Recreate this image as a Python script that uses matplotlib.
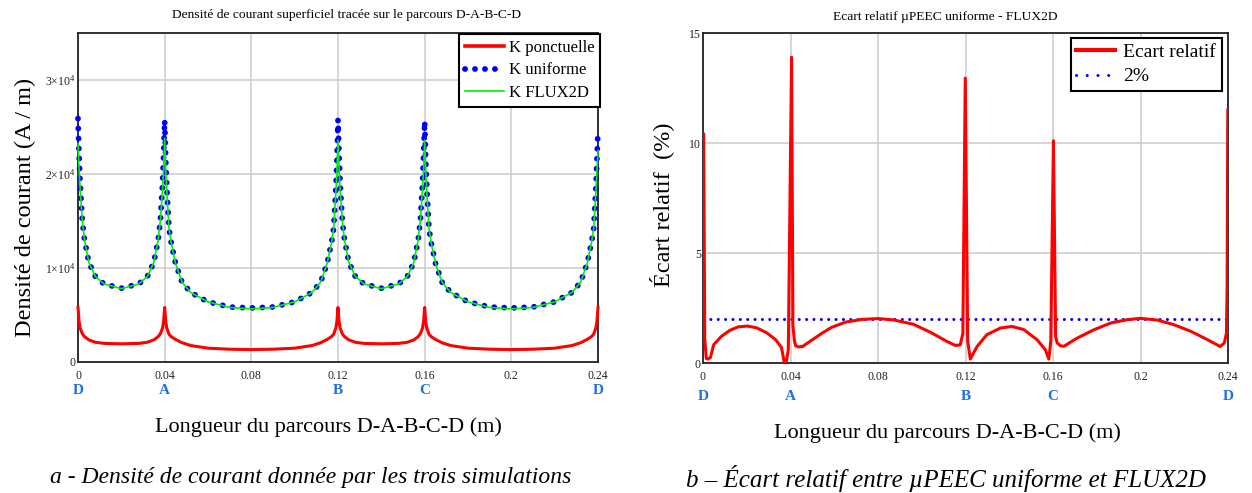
import matplotlib
matplotlib.use('Agg')
import matplotlib.pyplot as plt
import matplotlib.transforms as mtransforms
from matplotlib.ticker import FuncFormatter
from matplotlib.lines import Line2D

# polices : Times-like partout
plt.rcParams['font.family'] = ['Liberation Serif', 'DejaVu Serif']
plt.rcParams['mathtext.fontset'] = 'custom'
plt.rcParams['mathtext.rm'] = 'Liberation Serif'
plt.rcParams['mathtext.it'] = 'Liberation Serif:italic'

# ---- données ----
# abscisse le long du parcours D-A-B-C-D (m)
k_x = [0, 0.0005, 0.001, 0.002, 0.003, 0.005, 0.008, 0.012, 0.020, 0.028, 0.032, 0.035, 0.037, 0.038, 0.039, 0.0395,
       0.040,
       0.0405, 0.041, 0.042, 0.043, 0.045, 0.048, 0.052, 0.060, 0.070, 0.080, 0.090, 0.100, 0.108, 0.112, 0.115,
       0.117, 0.118, 0.119, 0.1195,
       0.120,
       0.1205, 0.121, 0.122, 0.123, 0.125, 0.128, 0.132, 0.140, 0.148, 0.152, 0.155, 0.157, 0.158, 0.159, 0.1595,
       0.160,
       0.1605, 0.161, 0.162, 0.163, 0.165, 0.168, 0.172, 0.180, 0.190, 0.200, 0.210, 0.220, 0.228, 0.232, 0.235,
       0.237, 0.238, 0.239, 0.2395,
       0.240]

# K ponctuelle (A/m)
k_ponctuelle = [5800, 4300, 3600, 3000, 2700, 2350, 2100, 1980, 1930, 1980, 2100, 2350, 2700, 3000, 3600, 4300,
                5800,
                4300, 3600, 2950, 2700, 2400, 2050, 1750, 1470, 1360, 1320, 1360, 1470, 1750, 2050, 2400,
                2700, 2950, 3600, 4300,
                5800,
                4300, 3600, 3000, 2700, 2350, 2100, 1980, 1930, 1980, 2100, 2350, 2700, 3000, 3600, 4300,
                5800,
                4300, 3600, 2950, 2700, 2400, 2050, 1750, 1470, 1360, 1320, 1360, 1470, 1750, 2050, 2400,
                2700, 2950, 3600, 4300,
                5800]

# K uniforme (A/m)
k_uniforme = [25900, 22000, 19000, 15000, 13000, 10600, 9100, 8300, 7850, 8300, 9100, 10600, 13000, 15000, 19000, 22000,
              25700,
              21500, 18500, 14200, 12700, 10500, 8500, 7400, 6400, 5850, 5750, 5850, 6400, 7400, 8500, 10500,
              12700, 14200, 18500, 21500,
              25800,
              22000, 19000, 15000, 13000, 10600, 9100, 8300, 7850, 8300, 9100, 10600, 13000, 15000, 19000, 22000,
              25600,
              21500, 18500, 14200, 12700, 10500, 8500, 7400, 6400, 5850, 5750, 5850, 6400, 7400, 8500, 10500,
              12700, 14200, 18500, 21500,
              24800]

# K FLUX2D (A/m)
k_flux2d = [23200, 20500, 18300, 15000, 13000, 10600, 9100, 8300, 7800, 8300, 9100, 10600, 13000, 15000, 18300, 20500,
            23800,
            20300, 18000, 14200, 12700, 10500, 8500, 7400, 6400, 5800, 5650, 5800, 6400, 7400, 8500, 10500,
            12700, 14200, 18000, 20300,
            23600,
            20500, 18300, 15000, 13000, 10600, 9100, 8300, 7800, 8300, 9100, 10600, 13000, 15000, 18300, 20500,
            23600,
            20300, 18000, 14200, 12700, 10500, 8500, 7400, 6400, 5800, 5650, 5800, 6400, 7400, 8500, 10500,
            12700, 14200, 18000, 20300,
            22500]

# écart relatif µPEEC uniforme / FLUX2D (%)
ecart_x = [0.0003, 0.0008, 0.0015, 0.0023, 0.0034, 0.0049, 0.0084, 0.0122, 0.0160, 0.0202, 0.0245, 0.0290, 0.0333,
           0.0359, 0.0371, 0.0381, 0.0390, 0.0405, 0.0411, 0.0418, 0.0424, 0.0437, 0.0455, 0.0483, 0.0545, 0.0588,
           0.0652, 0.0726, 0.0800, 0.0870, 0.0962, 0.1039, 0.1115, 0.1153, 0.1176, 0.1188, 0.1199, 0.1210, 0.1222,
           0.1253, 0.1298, 0.1360, 0.1413, 0.1466, 0.1527, 0.1565, 0.1581, 0.1590, 0.1602, 0.1612, 0.1619, 0.1634,
           0.1650, 0.1710, 0.1787, 0.1864, 0.1940, 0.2000, 0.2077, 0.2153, 0.2230, 0.2306, 0.2364, 0.2383, 0.2393,
           0.2396, 0.2399]
ecart_y = [10.4, 1.1, 0.2, 0.18, 0.25, 0.83, 1.21, 1.48, 1.64, 1.68, 1.60, 1.38, 1.05,
           0.70, 0.05, 0.08, 0.60, 13.9, 1.70, 1.00, 0.78, 0.73, 0.75, 0.94, 1.36, 1.62,
           1.86, 1.98, 2.02, 1.96, 1.76, 1.40, 0.98, 0.80, 0.82, 1.35, 12.95, 1.00, 0.18,
           0.75, 1.29, 1.59, 1.66, 1.52, 1.06, 0.60, 0.18, 1.00, 10.1, 1.20, 0.91, 0.78,
           0.76, 1.13, 1.51, 1.82, 1.97, 2.03, 1.95, 1.74, 1.44, 1.06, 0.75, 0.91, 1.36,
           3.5, 11.5]

seuil_x = [0, 0.24]
seuil_y = [2, 2]

x_ticks = [0, 0.04, 0.08, 0.12, 0.16, 0.2, 0.24]
x_ticklabels = ['0', '0.04', '0.08', '0.12', '0.16', '0.2', '0.24']
k_yticks = [0, 1e4, 2e4, 3e4]
ecart_yticks = [0, 5, 10, 15]
corner_names = ['D', 'A', 'B', 'C', 'D']
corner_pos = [0, 0.04, 0.12, 0.16, 0.24]

# ---- figure ----
W, H = 1252, 493
fig = plt.figure(figsize=(W / 100, H / 100), dpi=100)


def px_box(x0, y0, x1, y1):
    return [x0 / W, 1 - y1 / H, (x1 - x0) / W, (y1 - y0) / H]


ax1 = fig.add_axes(px_box(78, 33, 598, 362))
ax2 = fig.add_axes(px_box(703, 33, 1228, 363))

blue_dots = dict(color='#0000ff', linestyle=(0, (0.01, 1.7)), dash_capstyle='round', lw=4.2)

# panneau a
ax1.plot(k_x, k_uniforme, clip_on=False, zorder=3, **blue_dots)
ax1.plot(k_x, k_flux2d, color='#00f000', lw=1.2, clip_on=False, zorder=4)
ax1.plot(k_x, k_ponctuelle, color='#ff0000', lw=2.2, clip_on=False, zorder=5)
ax1.set_xlim(0, 0.24)
ax1.set_ylim(0, 3.5e4)
ax1.set_yticks(k_yticks)


def fmt_k(v, pos):
    if v == 0:
        return '0'
    return r'%d$\times$10$^{4}$' % round(v / 1e4)


ax1.yaxis.set_major_formatter(FuncFormatter(fmt_k))

h1 = [Line2D([], [], color='#ff0000', lw=2.6),
      Line2D([], [], **blue_dots),
      Line2D([], [], color='#00f000', lw=1.2)]
leg1 = ax1.legend(h1, ['K ponctuelle', 'K uniforme', 'K FLUX2D'], loc='upper right',
                  bbox_to_anchor=(1.004, 0.997), fontsize=12, frameon=True, fancybox=False,
                  framealpha=1, edgecolor='black', handlelength=2.3, handletextpad=0.3,
                  labelspacing=0.4, borderpad=0.35, borderaxespad=0)
leg1.get_frame().set_linewidth(1.5)

# panneau b
ax2.plot(seuil_x, seuil_y, color='#0000ff', linestyle=(0, (0.01, 2.4)), dash_capstyle='round', lw=2.2,
         zorder=3)
ax2.plot(ecart_x, ecart_y, color='#ff0000', lw=2.2, zorder=4)
ax2.set_xlim(0, 0.24)
ax2.set_ylim(0, 15)
ax2.set_yticks(ecart_yticks)
ax2.set_yticklabels([str(v) for v in ecart_yticks])

h2 = [Line2D([], [], color='#ff0000', lw=3),
      Line2D([], [], color='#0000ff', linestyle=(0, (0.01, 3.5)), dash_capstyle='round', lw=2.2)]
leg2 = ax2.legend(h2, ['Ecart relatif', '2%'], loc='upper right', bbox_to_anchor=(0.988, 0.986),
                  fontsize=14, frameon=True, fancybox=False, framealpha=1, edgecolor='black',
                  handlelength=2.0, handletextpad=0.4, labelspacing=0.35, borderpad=0.3, borderaxespad=0)
leg2.get_frame().set_linewidth(1.5)

for ax, ypos in [(ax1, -0.088), (ax2, -0.102)]:
    ax.set_xticks(x_ticks)
    ax.set_xticklabels(x_ticklabels)
    ax.tick_params(length=0, labelsize=8.5, colors='#222222')
    ax.tick_params(axis='x', pad=5.5)
    ax.tick_params(axis='y', pad=1.5)
    ax.grid(True, color='#cccccc', lw=1.1)
    ax.set_axisbelow(True)
    for s in ax.spines.values():
        s.set_color('#222222')
        s.set_linewidth(1.3)
    trans = mtransforms.blended_transform_factory(ax.transData, ax.transAxes)
    for name, pos in zip(corner_names, corner_pos):
        ax.text(pos, ypos, name, transform=trans, color='#1f6fe6', fontsize=11, fontweight='bold',
                ha='center', va='center')

# textes hors axes
fig.text(346 / W, 1 - 15 / H, 'Densité de courant superficiel tracée sur le parcours D-A-B-C-D',
         fontsize=9.7, ha='center', va='center')
fig.text(945 / W, 1 - 17 / H, 'Ecart relatif µPEEC uniforme - FLUX2D', fontsize=9.7, ha='center', va='center')
fig.text(25 / W, 1 - 207 / H, 'Densité de courant (A / m)', rotation=90, fontsize=17.5, ha='center', va='center')
fig.text(662 / W, 1 - 205 / H, 'Écart relatif  (%)', rotation=90, fontsize=17.5, ha='center', va='center')
fig.text(328 / W, 1 - 427 / H, 'Longueur du parcours D-A-B-C-D (m)', fontsize=16, ha='center', va='center')
fig.text(947 / W, 1 - 433 / H, 'Longueur du parcours D-A-B-C-D (m)', fontsize=16, ha='center', va='center')
fig.text(311 / W, 1 - 478 / H, 'a - Densité de courant donnée par les trois simulations',
         fontsize=17, style='italic', ha='center', va='center')
fig.text(946 / W, 1 - 478 / H, 'b – Écart relatif entre µPEEC uniforme et FLUX2D',
         fontsize=18, style='italic', ha='center', va='center')

fig.savefig('out.png', dpi=100)
